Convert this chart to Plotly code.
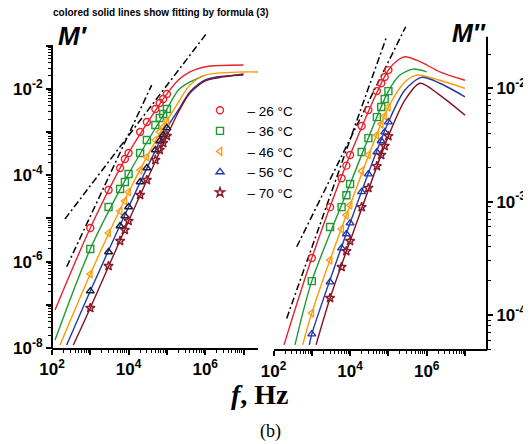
import plotly.graph_objects as go

# The page body has an 8px default margin, so the figure is drawn 8px in from the corner.
OFF = 8
W, H = 531 - OFF, 444 - OFF

# ---------------- data ----------------
freq = [1e3, 3e3, 6e3, 8e3, 1e4, 2e4, 3e4, 5e4, 6.5e4, 8e4, 1e5]
temps = ["– 26 °C", "– 36 °C", "– 46 °C", "– 56 °C", "– 70 °C"]

# M' measured points
mp_26 = [6.0e-6, 4.54e-5, 1.47e-4, 2.37e-4, 3.27e-4, 1.0e-3, 1.70e-3, 3.40e-3, 4.69e-3, 5.81e-3, 7.59e-3]
mp_36 = [1.96e-6, 1.84e-5, 4.80e-5, 6.97e-5, 1.07e-4, 3.27e-4, 6.53e-4, 1.45e-3, 2.11e-3, 2.61e-3, 3.40e-3]
mp_46 = [5.16e-7, 4.59e-6, 1.48e-5, 2.53e-5, 4.08e-5, 1.32e-4, 2.64e-4, 6.53e-4, 1.0e-3, 1.31e-3, 1.80e-3]
mp_56 = [2.08e-7, 1.67e-6, 6.67e-6, 1.14e-5, 1.84e-5, 6.97e-5, 1.47e-4, 3.83e-4, 6.19e-4, 8.53e-4, 1.24e-3]
mp_70 = [8.43e-8, 7.91e-7, 3.0e-6, 5.38e-6, 8.71e-6, 3.48e-5, 7.74e-5, 2.25e-4, 3.83e-4, 5.56e-4, 8.07e-4]

# M'' measured points
mpp_26 = [3.18e-4, 8.95e-4, 1.61e-3, 2.08e-3, 2.58e-3, 4.65e-3, 6.43e-3, 9.46e-3, 1.11e-2, 1.26e-2, 1.45e-2]
mpp_36 = [1.99e-4, 5.97e-4, 8.95e-4, 1.14e-3, 1.43e-3, 2.74e-3, 3.64e-3, 5.58e-3, 6.84e-3, 8.05e-3, 9.46e-3]
mpp_46 = [1.04e-4, 3.05e-4, 5.73e-4, 7.62e-4, 9.33e-4, 1.86e-3, 2.58e-3, 3.87e-3, 4.84e-3, 5.70e-3, 6.84e-3]
mpp_56 = [6.78e-5, 1.95e-4, 3.89e-4, 5.18e-4, 6.47e-4, 1.22e-3, 1.75e-3, 2.74e-3, 3.43e-3, 4.11e-3, 5.04e-3]
mpp_70 = [None, 1.41e-4, 2.65e-4, 3.66e-4, 4.49e-4, 8.95e-4, 1.32e-3, 2.06e-3, 2.58e-3, 3.10e-3, 3.79e-3]

# fitted curves, M'
fit_mp_26_f = [120, 1e3, 1e4, 1e5, 2e5, 4e5, 1e6, 1e7]
fit_mp_26 = [7.6e-8, 6.0e-6, 3.27e-4, 7.6e-3, 1.6e-2, 2.45e-2, 3.24e-2, 3.56e-2]
fit_mp_36_f = [120, 1e3, 1e4, 1e5, 2e5, 4e5, 1e6]
fit_mp_36 = [1.53e-8, 1.96e-6, 1.07e-4, 3.40e-3, 9.4e-3, 1.44e-2, 2.08e-2]
fit_mp_46_f = [162, 1e3, 1e4, 1e5, 2e5, 4e5, 1e6, 1e7, 2.7e7]
fit_mp_46 = [1.17e-8, 5.16e-7, 4.08e-5, 1.8e-3, 4.94e-3, 1.22e-2, 2.08e-2, 2.45e-2, 2.45e-2]
fit_mp_56_f = [242, 1e3, 1e4, 1e5, 2e5, 4e5, 1e6, 2e6, 1e7]
fit_mp_56 = [1.17e-8, 2.08e-7, 1.84e-5, 1.24e-3, 3.23e-3, 8.43e-3, 1.6e-2, 1.87e-2, 2.08e-2]
fit_mp_70_f = [360, 1e3, 1e4, 1e5, 2e5, 4e5, 1e6, 2e6, 1e7]
fit_mp_70 = [1.17e-8, 8.43e-8, 8.71e-6, 8.07e-4, 2.9e-3, 8.0e-3, 1.52e-2, 1.78e-2, 2.2e-2]

# fitted curves, M''
fit_mpp_26_f = [188, 1e3, 1e4, 1e5, 1.78e5, 2.7e5, 6.7e5, 2.2e6, 1e7]
fit_mpp_26 = [5.45e-5, 3.18e-4, 2.58e-3, 1.45e-2, 1.78e-2, 1.90e-2, 1.72e-2, 1.40e-2, 1.18e-2]
fit_mpp_36_f = [364, 1e3, 1e4, 1e5, 2.0e5, 4.4e5, 1e6]
fit_mpp_36 = [5.45e-5, 1.99e-4, 1.43e-3, 9.46e-3, 1.31e-2, 1.48e-2, 1.40e-2]
fit_mpp_46_f = [578, 1e3, 1e4, 1e5, 2.7e5, 5.5e5, 2.2e6, 1e7]
fit_mpp_46 = [5.45e-5, 1.04e-4, 9.33e-4, 6.84e-3, 1.14e-2, 1.31e-2, 1.18e-2, 1.0e-2]
fit_mpp_56_f = [861, 1e3, 1e4, 1e5, 2.7e5, 7.4e5, 2.2e6, 1e7]
fit_mpp_56 = [5.45e-5, 6.78e-5, 6.47e-4, 5.04e-3, 9.66e-3, 1.25e-2, 1.11e-2, 8.43e-3]
fit_mpp_70_f = [1290, 3e3, 1e4, 1e5, 2.7e5, 6.7e5, 2.2e6, 1e7]
fit_mpp_70 = [5.45e-5, 1.41e-4, 4.49e-4, 3.79e-3, 7.88e-3, 1.11e-2, 8.73e-3, 5.81e-3]

# dash-dot guide lines
ref_mp_a_f = [218, 1.09e6]
ref_mp_a = [9.7e-6, 0.193]
ref_mp_b_f = [242, 4.0e4]
ref_mp_b = [7.6e-7, 1.22e-2]
ref_mpp_a_f = [221, 8.65e4]
ref_mpp_a = [9.33e-5, 2.76e-2]
ref_mpp_b_f = [404, 2.83e5]
ref_mpp_b = [4.0e-4, 3.5e-2]

x_ticks = [1e2, 1e3, 1e4, 1e5, 1e6, 1e7]
x_ticktext = ["10<sup>2</sup>", "", "10<sup>4</sup>", "", "10<sup>6</sup>", ""]
ly_ticks = [1e-8, 1e-7, 1e-6, 1e-5, 1e-4, 1e-3, 1e-2, 1e-1]
ly_ticktext = ["10<sup>-8</sup>", "", "10<sup>-6</sup>", "", "10<sup>-4</sup>", "", "10<sup>-2</sup>", ""]
ry_ticks = [1e-4, 1e-3, 1e-2]
ry_ticktext = ["10<sup>-4</sup>", "10<sup>-3</sup>", "10<sup>-2</sup>"]

# ---------------- styles ----------------
line_colors = ["#e8212b", "#1e9b32", "#ff9a00", "#2436a8", "#7d1326"]
mk_colors_l = ["#e8212b", "#1e9b32", "#f5a01e", "#1c1c3a", "#8b1a2a"]
mk_colors_r = ["#e8212b", "#1e9b32", "#f5a01e", "#2436a8", "#8b1a2a"]
symbols = ["circle-open", "square-open", "triangle-left-open", "triangle-up-open", "star-open"]

mp_data = [mp_26, mp_36, mp_46, mp_56, mp_70]
mpp_data = [mpp_26, mpp_36, mpp_46, mpp_56, mpp_70]
fit_mp = [(fit_mp_26_f, fit_mp_26), (fit_mp_36_f, fit_mp_36), (fit_mp_46_f, fit_mp_46),
          (fit_mp_56_f, fit_mp_56), (fit_mp_70_f, fit_mp_70)]
fit_mpp = [(fit_mpp_26_f, fit_mpp_26), (fit_mpp_36_f, fit_mpp_36), (fit_mpp_46_f, fit_mpp_46),
           (fit_mpp_56_f, fit_mpp_56), (fit_mpp_70_f, fit_mpp_70)]

# ---------------- geometry (reference-image pixels) ----------------
L_x0, L_x1 = 52, 258
L_yb, L_yt, L_spine_top = 348, 30.5, 45
R_x0, R_x1 = 273.5, 487
R_yb, R_yt, R_spine_top = 349.3, 24, 36.7
dec_x = 38.3


def px(x):
    return (x - OFF) / W


def py(y):
    return (H - (y - OFF)) / H


fig = go.Figure()

for i in range(5):
    ff, vv = fit_mp[i]
    fig.add_trace(go.Scatter(x=ff, y=vv, mode="lines", line=dict(color=line_colors[i], width=1.4, shape="spline", smoothing=0.8),
                             xaxis="x", yaxis="y", showlegend=False, hoverinfo="skip"))
    ff, vv = fit_mpp[i]
    fig.add_trace(go.Scatter(x=ff, y=vv, mode="lines", line=dict(color=line_colors[i], width=1.4, shape="spline", smoothing=0.8),
                             xaxis="x2", yaxis="y2", showlegend=False, hoverinfo="skip"))

for fx, fy, ax, ay in [(ref_mp_a_f, ref_mp_a, "x", "y"), (ref_mp_b_f, ref_mp_b, "x", "y"),
                       (ref_mpp_a_f, ref_mpp_a, "x2", "y2"), (ref_mpp_b_f, ref_mpp_b, "x2", "y2")]:
    fig.add_trace(go.Scatter(x=fx, y=fy, mode="lines", line=dict(color="black", width=1.5, dash="7px,3px,2px,3px"),
                             xaxis=ax, yaxis=ay, showlegend=False, hoverinfo="skip"))

for i in range(5):
    fig.add_trace(go.Scatter(x=freq, y=mp_data[i], mode="markers",
                             marker=dict(symbol=symbols[i], size=7, color=mk_colors_l[i], line=dict(width=1.4, color=mk_colors_l[i])),
                             xaxis="x", yaxis="y", showlegend=False))
for i in range(5):
    fig.add_trace(go.Scatter(x=freq, y=mpp_data[i], mode="markers", name="\u00a0\u00a0" + temps[i],
                             marker=dict(symbol=symbols[i], size=7, color=mk_colors_r[i], line=dict(width=1.4, color=mk_colors_r[i])),
                             xaxis="x2", yaxis="y2", showlegend=True))


def minors(lo, hi):
    out = []
    for e in range(lo, hi):
        for k in range(2, 10):
            out.append(k * 10.0 ** e)
    return out


tickfont = dict(family="Liberation Sans, Arial", size=17, color="black", weight="bold")
xcommon = dict(type="log", showline=True, linewidth=2, linecolor="black", ticks="outside", ticklen=5, tickwidth=1.5,
               tickcolor="black", tickmode="array", tickvals=x_ticks, ticktext=x_ticktext, tickfont=tickfont,
               showgrid=False, zeroline=False, automargin=False,
               minor=dict(tickmode="array", tickvals=minors(2, 7), ticks="outside", ticklen=3, tickwidth=1, tickcolor="black"))

ann = dict(xref="paper", yref="paper", showarrow=False, xanchor="center", yanchor="middle")

fig.update_layout(
    width=W, height=H, margin=dict(l=0, r=0, t=0, b=0, autoexpand=False),
    paper_bgcolor="white", plot_bgcolor="rgba(0,0,0,0)",
    xaxis=dict(xcommon, domain=[px(L_x0), px(L_x1)], range=[2, 2 + (L_x1 - L_x0) / dec_x], anchor="y"),
    yaxis=dict(type="log", domain=[py(L_yb), py(L_yt)], range=[-8, -8 + (L_yb - L_yt) / 43.2], anchor="x",
               showline=False, ticks="outside", ticklen=5, tickwidth=1.5, tickcolor="black",
               tickmode="array", tickvals=ly_ticks, ticktext=ly_ticktext, tickfont=tickfont,
               showgrid=False, zeroline=False, automargin=False,
               minor=dict(tickmode="array", tickvals=minors(-8, -1), ticks="outside", ticklen=3, tickwidth=1, tickcolor="black")),
    xaxis2=dict(xcommon, domain=[px(R_x0), px(R_x1)], range=[2, 2 + (R_x1 - R_x0) / dec_x], anchor="y2"),
    yaxis2=dict(type="log", domain=[py(R_yb), py(R_yt)], range=[-4.303, -4.303 + (R_yb - R_yt) / 113.3], anchor="x2",
                side="right", showline=False, ticks="outside", ticklen=5, tickwidth=1.5, tickcolor="black",
                tickmode="array", tickvals=ry_ticks, ticktext=ry_ticktext, tickfont=tickfont,
                showgrid=False, zeroline=False, automargin=False,
                minor=dict(tickmode="array", tickvals=[k * 1e-5 for k in (5, 6, 7, 8, 9)] + minors(-4, -2) + [2e-2],
                           ticks="outside", ticklen=3, tickwidth=1, tickcolor="black")),
    legend=dict(x=px(200), y=py(95), xanchor="left", yanchor="top", bgcolor="rgba(0,0,0,0)",
                font=dict(family="Liberation Sans, Arial", size=13.5, color="black"), tracegroupgap=0),
    shapes=[
        dict(type="line", xref="paper", yref="paper", x0=px(L_x0), x1=px(L_x0), y0=py(L_yb + 1), y1=py(L_spine_top),
             line=dict(color="black", width=2)),
        dict(type="line", xref="paper", yref="paper", x0=px(R_x1), x1=px(R_x1), y0=py(R_yb + 1), y1=py(R_spine_top),
             line=dict(color="black", width=2)),
    ],
    annotations=[
        dict(ann, text="<b>colored solid lines show fitting by formula (3)</b>", x=px(161), y=py(13),
             font=dict(family="Liberation Sans, Arial", size=10, color="black")),
        dict(ann, text="<b><i>M′</i></b>", x=px(73), y=py(36),
             font=dict(family="Liberation Sans, Arial", size=26, color="black")),
        dict(ann, text="<b><i>M″</i></b>", x=px(469), y=py(33),
             font=dict(family="Liberation Sans, Arial", size=25, color="black")),
        dict(ann, text="<b><i>f</i>, Hz</b>", x=px(260), y=py(394),
             font=dict(family="Liberation Serif, Times New Roman", size=28, color="black")),
        dict(ann, text="(b)", x=px(270), y=py(431),
             font=dict(family="Liberation Serif, Times New Roman", size=18, color="black")),
    ],
)

fig.write_html("out.html")
